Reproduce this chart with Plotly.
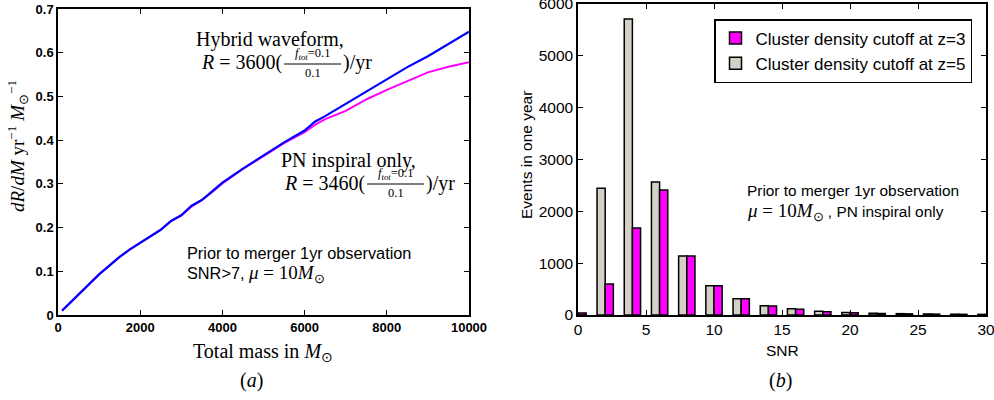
import plotly.graph_objects as go

# ---- data: panel (a) ----
mass = [100, 300, 500, 750, 1000, 1250, 1500, 1750, 2000, 2250, 2500, 2750, 3000, 3250,
        3500, 3750, 4000, 4500, 5000, 5250, 5500, 6000, 6250, 6500, 7000, 7500, 8000,
        8500, 9000, 9500, 10000]
hybrid = [0.010, 0.028, 0.046, 0.070, 0.093, 0.113, 0.133, 0.150, 0.165, 0.182, 0.195,
          0.215, 0.228, 0.250, 0.263, 0.283, 0.303, 0.335, 0.365, 0.382, 0.395, 0.422,
          0.442, 0.455, 0.483, 0.513, 0.540, 0.567, 0.592, 0.620, 0.648]
pn_only = [0.010, 0.028, 0.046, 0.070, 0.093, 0.113, 0.133, 0.150, 0.165, 0.182, 0.195,
           0.215, 0.228, 0.248, 0.263, 0.281, 0.301, 0.334, 0.364, 0.380, 0.393, 0.418,
           0.435, 0.448, 0.467, 0.493, 0.515, 0.535, 0.555, 0.568, 0.578]
mass_ticks = [0, 2000, 4000, 6000, 8000, 10000]
rate_ticks = [0, 0.1, 0.2, 0.3, 0.4, 0.5, 0.6, 0.7]

# ---- data: panel (b) ----
snr = [0, 2, 4, 6, 8, 10, 12, 14, 16, 18, 20, 22, 24, 26, 28, 30]
events_z5 = [20, 2444, 5711, 2566, 1138, 566, 315, 178, 120, 72, 50, 35, 26, 20, 15, 12]
events_z3 = [38, 598, 1679, 2412, 1138, 566, 315, 174, 112, 62, 42, 30, 22, 17, 13, 10]
snr_ticks = [0, 5, 10, 15, 20, 25, 30]
event_ticks = [0, 1000, 2000, 3000, 4000, 5000, 6000]

W, H = 994, 400
def px(x): return x / W
def py(y): return 1 - y / H

fig = go.Figure()
fig.add_trace(go.Scatter(x=mass, y=pn_only, mode="lines", line=dict(color="#ff00ff", width=2),
                         showlegend=False, xaxis="x", yaxis="y"))
fig.add_trace(go.Scatter(x=mass, y=hybrid, mode="lines", line=dict(color="#0000ff", width=2.2),
                         showlegend=False, xaxis="x", yaxis="y"))
fig.add_trace(go.Bar(x=snr, y=events_z5, name="Cluster density cutoff at z=5",
                     marker=dict(color="#d4d0c8", line=dict(color="black", width=1.5)),
                     xaxis="x2", yaxis="y2"))
fig.add_trace(go.Bar(x=snr, y=events_z3, name="Cluster density cutoff at z=3",
                     marker=dict(color="#ff00ff", line=dict(color="black", width=1.5)),
                     xaxis="x2", yaxis="y2"))

axis_common = dict(showgrid=False, zeroline=False, showline=True, linecolor="black",
                   linewidth=1.5, mirror="ticks", ticks="inside", ticklen=5, tickwidth=1,
                   tickcolor="black", automargin=False, ticklabeloverflow="allow")

left_font = dict(family="Liberation Sans", size=13, color="black", weight="bold")
right_font = dict(family="Liberation Sans", size=15.5, color="black")

fig.update_layout(
    width=W, height=H, margin=dict(l=0, r=0, t=0, b=0),
    paper_bgcolor="white", plot_bgcolor="white",
    barmode="group", bargap=0.4, bargroupgap=0,
    xaxis=dict(domain=[px(58), px(469)], range=[0, 10000], tickvals=mass_ticks,
               ticktext=[str(v) for v in mass_ticks],
               tickfont=left_font, anchor="y", **axis_common),
    yaxis=dict(domain=[py(315), py(9)], range=[0, 0.7], tickvals=rate_ticks,
               ticktext=["0"] + [f"{v:.1f}" for v in rate_ticks[1:]],
               tickfont=left_font, anchor="x", **axis_common),
    xaxis2=dict(domain=[px(578), px(986)], range=[0, 30], tickvals=snr_ticks,
                tickfont=right_font, anchor="y2", **axis_common),
    yaxis2=dict(domain=[py(315), py(4)], range=[0, 6000], tickvals=event_ticks,
                tickfont=right_font, anchor="x2", **axis_common),
    legend=dict(x=px(972), y=py(19), xanchor="right", yanchor="top", traceorder="reversed",
                bgcolor="white", bordercolor="black", borderwidth=1.5,
                font=dict(family="Liberation Sans", size=17, color="black"),
                itemwidth=30, tracegroupgap=0),
)

serif = "Liberation Serif"
def ann(x, y, text, size=20, family=serif, xanchor="center", angle=0, yanchor="middle"):
    fig.add_annotation(x=px(x), y=py(y), xref="paper", yref="paper", text=text, showarrow=False,
                       xanchor=xanchor, yanchor=yanchor, textangle=angle, borderpad=0,
                       font=dict(family=family, size=size, color="black"))

def fraction_expr(xf0, xf1, y, prefix):
    ann(xf0, y, prefix, xanchor="right")
    xc = (xf0 + xf1) / 2
    yl = y + 1
    ann(xc, yl - 10, "<i>f</i><sub><i>tot</i></sub>=0.1", size=12.5)
    ann(xc, yl + 1, "0.1", size=12.5, yanchor="top")
    fig.add_shape(type="line", xref="paper", yref="paper", x0=px(xf0 + 1), x1=px(xf1 - 1),
                  y0=py(yl), y1=py(yl), line=dict(color="black", width=1))
    ann(xf1, y, ")/yr", xanchor="left")

# panel (a) annotations
ann(195, 39, "Hybrid waveform,", xanchor="left")
fraction_expr(283, 342, 63, "<i>R</i> = 3600(")
ann(280, 160, "PN inspiral only,", xanchor="left")
fraction_expr(366, 425, 183, "<i>R</i> = 3460(")
ann(186, 253, "Prior to merger 1yr observation", size=16.3, family="Liberation Sans", xanchor="left")
ann(186, 274, "SNR>7, <span style='font-family:Liberation Serif;font-size:19px'><i>μ</i> = 10<i>M</i><sub>⊙</sub></span>",
    size=16.3, family="Liberation Sans", xanchor="left")
ann(263, 352, "Total mass in <i>M</i><sub>⊙</sub>", size=20)
ann(251, 380, "(<i>a</i>)", size=20)
ann(17, 146, "<i>dR</i>/<i>dM</i> yr<sup>−1</sup> <i>M</i><sub>⊙</sub><sup>−1</sup>", size=19, angle=-90)

# panel (b) annotations
ann(746, 190, "Prior to merger 1yr observation", size=15.4, family="Liberation Sans", xanchor="left")
ann(746, 212, "<span style='font-family:Liberation Serif;font-size:19px'><i>μ</i> = 10<i>M</i><sub>⊙</sub></span>"
    " , PN inspiral only", size=15.4, family="Liberation Sans", xanchor="left")
ann(782, 350, "SNR", size=15.5, family="Liberation Sans")
ann(780, 380, "(<i>b</i>)", size=20)
ann(527, 155, "Events in one year", size=15.5, family="Liberation Sans", angle=-90)

fig.write_html("out.html", config={"displayModeBar": False})
